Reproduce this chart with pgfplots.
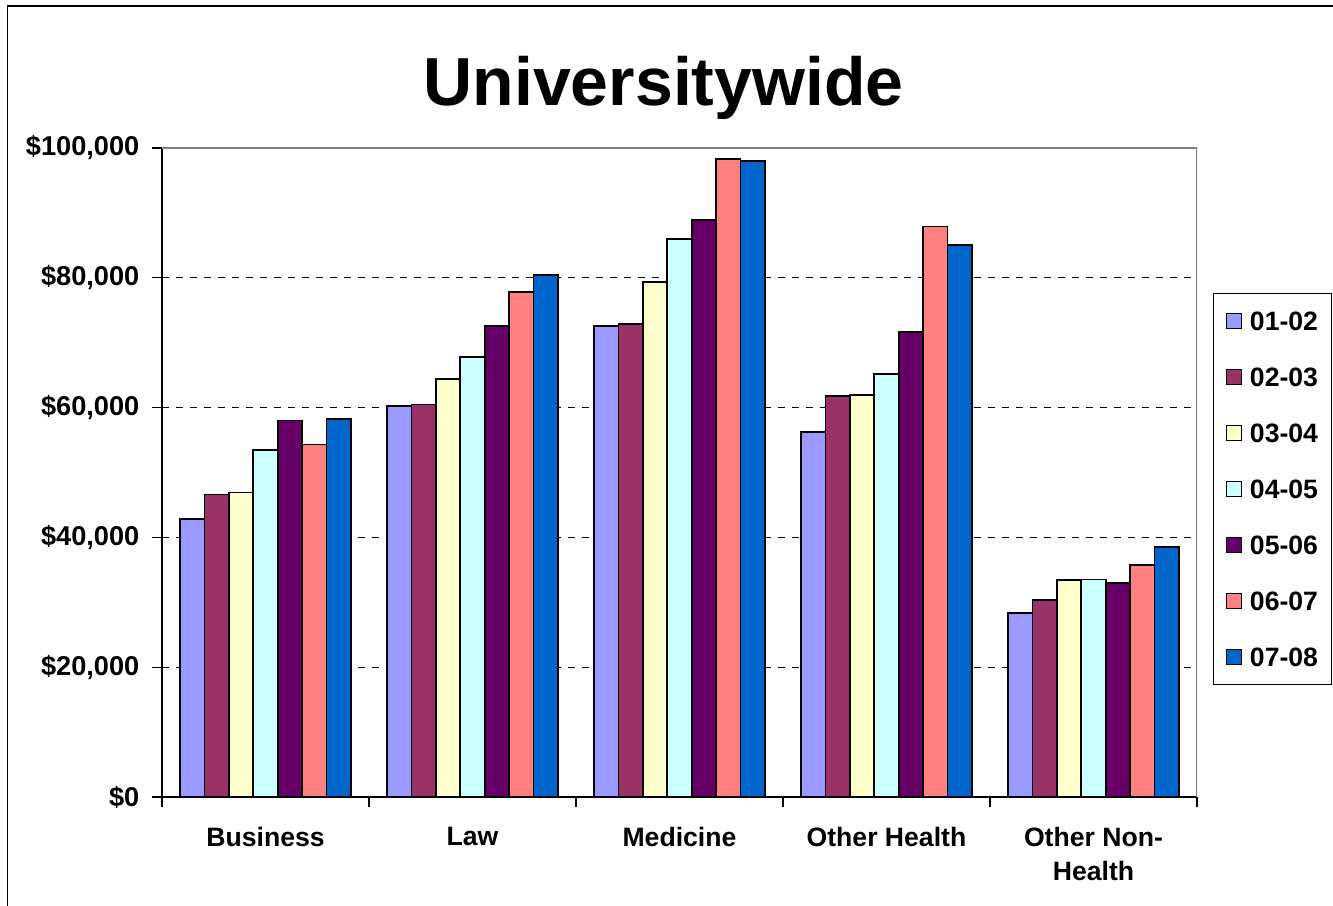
\documentclass[border=0pt]{standalone}
\usepackage{pgfplots}
\usepackage{pgfplotstable}
\pgfplotsset{compat=1.18}
\usepackage{fontspec}
\setmainfont{Liberation Sans}
\definecolor{c1}{HTML}{9999FF}
\definecolor{c2}{HTML}{993366}
\definecolor{c3}{HTML}{FFFFCC}
\definecolor{c4}{HTML}{CCFFFF}
\definecolor{c5}{HTML}{660066}
\definecolor{c6}{HTML}{FF8080}
\definecolor{c7}{HTML}{0066CC}
\definecolor{bordergray}{HTML}{808080}
\pgfplotstableread{
x b1 b2 b3 b4 b5 b6 b7
0 42800 46600 46900 53500 58000 54300 58200
1 60300 60500 64400 67800 72600 77800 80400
2 72600 72900 79300 86000 88900 98300 98000
3 56200 61800 61900 65200 71600 87900 85000
4 28400 30400 33400 33500 33000 35700 38500
}\datatable
\newcommand{\lblfont}{\bfseries\fontsize{13.3}{17}\selectfont}
\newcommand{\ylblfont}{\bfseries\fontsize{13.6}{16.5}\selectfont}
\begin{document}
\begin{tikzpicture}
\useasboundingbox (0,0) rectangle (666.5pt,452.5pt);
\draw[line width=0.7pt] (3.65pt,-10pt) -- (3.65pt,449.5pt) -- (700pt,449.5pt);
\node[anchor=base, font=\bfseries\fontsize{34}{40}\selectfont] at (331.8pt,399.5pt) {Universitywide};
\begin{axis}[
  at={(81pt,54pt)}, anchor=south west,
  scale only axis, width=517.5pt, height=324.5pt,
  ybar=0pt, bar width=12.18pt,
  xmin=-0.5, xmax=4.5, ymin=0, ymax=100000,
  xtick={-0.5,0.5,1.5,2.5,3.5,4.5},
  x tick label as interval,
  xticklabels={Business,Law,Medicine,Other Health,{Other Non-\\Health}},
  xticklabel style={align=center, font=\lblfont, yshift=-7pt},
  ytick={0,20000,40000,60000,80000,100000},
  yticklabels={{\$0},{\$20,000},{\$40,000},{\$60,000},{\$80,000},{\$100,000}},
  yticklabel style={font=\ylblfont, xshift=-3pt},
  scaled y ticks=false,
  tick align=outside, major tick length=4.8pt,
  tick style={black, line width=0.6pt},
  axis x line*=bottom, axis y line*=left,
  axis line style={black, line width=0.6pt},
  ymajorgrids, grid style={black, line width=0.5pt, dash pattern=on 3.5pt off 3.5pt},
  legend style={at={(1.0155,0.7766)}, anchor=north west, draw=black, line width=0.5pt,
    inner xsep=2.5pt, inner ysep=9pt, row sep=18.5pt, font=\lblfont,
    nodes={inner xsep=4pt, inner ysep=0pt, text height=9.5pt, text depth=0pt}},
  legend cell align=left,
  legend image code/.code={\path (0pt,0pt); \draw[#1, line width=0.6pt] (3.5pt,-3.75pt) rectangle (11pt,3.75pt);},
  every axis plot/.append style={draw=black, line width=0.85pt},
]
\addplot[fill=c1] table[x=x,y=b1]{\datatable};
\addplot[fill=c2] table[x=x,y=b2]{\datatable};
\addplot[fill=c3] table[x=x,y=b3]{\datatable};
\addplot[fill=c4] table[x=x,y=b4]{\datatable};
\addplot[fill=c5] table[x=x,y=b5]{\datatable};
\addplot[fill=c6] table[x=x,y=b6]{\datatable};
\addplot[fill=c7] table[x=x,y=b7]{\datatable};
\legend{01-02,02-03,03-04,04-05,05-06,06-07,07-08}
\draw[bordergray, line width=0.6pt] (rel axis cs:0,1) -- (rel axis cs:1,1) -- (rel axis cs:1,0);
\end{axis}
\end{tikzpicture}
\end{document}
